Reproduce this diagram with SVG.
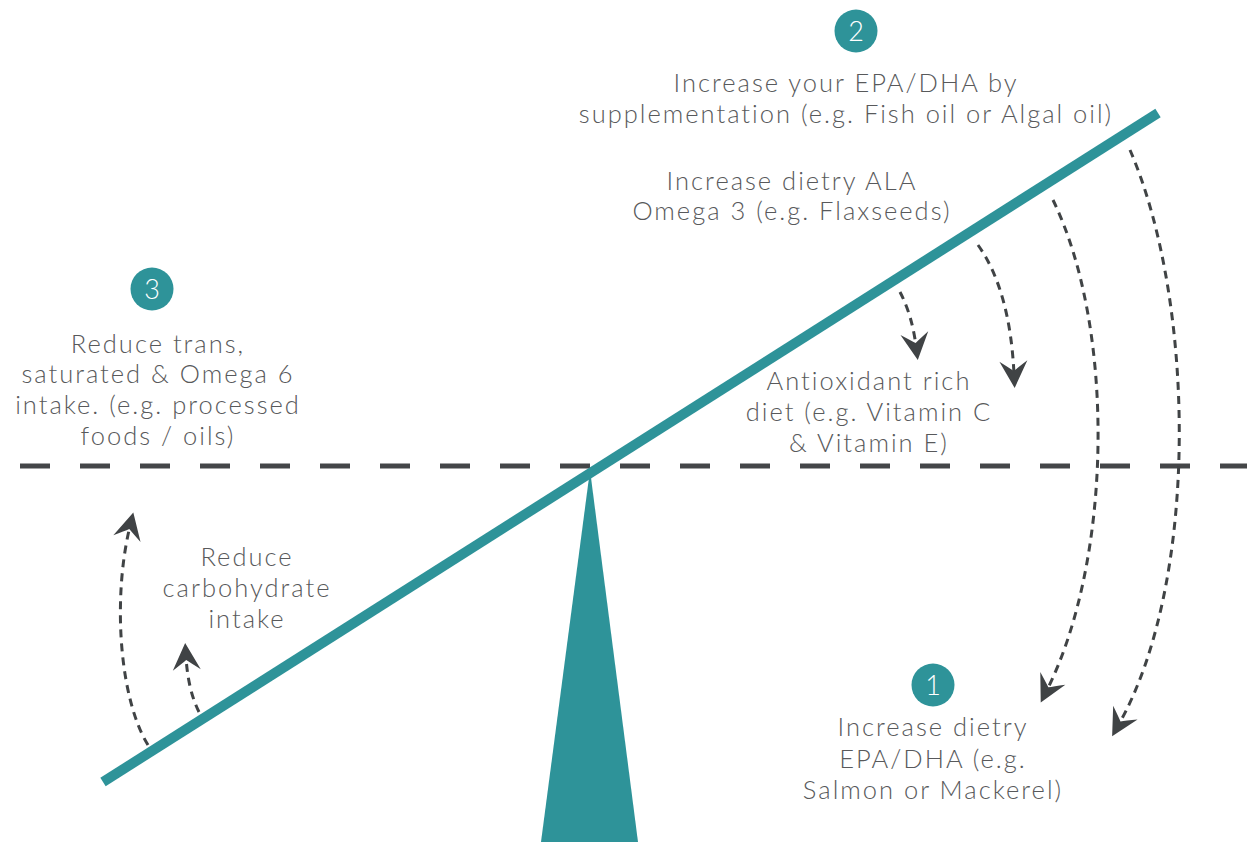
<svg xmlns="http://www.w3.org/2000/svg" width="1247" height="842" viewBox="0 0 1247 842">
  <style>
    .lbl { font-family: Lato, "Open Sans", "Liberation Sans", sans-serif; font-weight: 300; font-size: 25.5px; letter-spacing: 2px; fill: #58595b; text-anchor: middle; }
    .num { font-family: Lato, "Open Sans", "Liberation Sans", sans-serif; font-weight: 300; font-size: 27px; fill: #ffffff; text-anchor: middle; }
    .badge { fill: #2e9399; }
    .flow { fill: none; stroke: #404345; stroke-width: 3; stroke-dasharray: 8 6; marker-end: url(#head); }
  </style>
  <defs>
    <marker id="head" viewBox="-16 -16 32 32" markerWidth="32" markerHeight="32" refX="0" refY="0" orient="auto" markerUnits="userSpaceOnUse">
      <path d="M14,0 L-13,-14 Q-6,-4 -3,0 Q-6,4 -13,14 Z" fill="#404345"/>
    </marker>
  </defs>
  <rect width="1247" height="842" fill="#ffffff"/>

  <!-- balance line -->
  <line x1="20" y1="466" x2="1247" y2="466" stroke="#444648" stroke-width="5" stroke-dasharray="30 30"/>

  <!-- seesaw -->
  <g id="fulcrum">
    <polygon points="590,470 638,842 541,842" fill="#2e9399"/>
  </g>
  <g id="beam">
    <line x1="103" y1="782" x2="1158" y2="113" stroke="#2e9399" stroke-width="10"/>
  </g>

  <!-- connectors -->
  <g id="connectors">
    <path class="flow" d="M900,292 Q912,315 916,346"/>
    <path class="flow" d="M978,245 Q1010,290 1014,374"/>
    <path class="flow" d="M1053,200 C1116,330 1112,560 1047,690"/>
    <path class="flow" d="M1130,150 C1195,300 1200,580 1119,724"/>
    <path class="flow" d="M148,745 C120,700 112,600 130,526"/>
    <path class="flow" d="M199,712 Q188,690 186,657"/>
  </g>

  <g id="step2">
    <circle class="badge" cx="856" cy="31" r="21.5"/>
    <text class="num" x="856" y="41">2</text>
    <text class="lbl" x="846" y="92">Increase your EPA/DHA by</text>
    <text class="lbl" x="846" y="123">supplementation (e.g. Fish oil or Algal oil)</text>
  </g>

  <g id="ala">
    <text class="lbl" x="792" y="190">Increase dietry ALA</text>
    <text class="lbl" x="792" y="220">Omega 3 (e.g. Flaxseeds)</text>
  </g>

  <g id="step3">
    <circle class="badge" cx="152" cy="289" r="21.5"/>
    <text class="num" x="152" y="299">3</text>
    <text class="lbl" x="158" y="353">Reduce trans,</text>
    <text class="lbl" x="158" y="383">saturated &amp; Omega 6</text>
    <text class="lbl" x="158" y="414">intake. (e.g. processed</text>
    <text class="lbl" x="158" y="445">foods / oils)</text>
  </g>

  <g id="antioxidant">
    <text class="lbl" x="869" y="390">Antioxidant rich</text>
    <text class="lbl" x="869" y="421">diet (e.g. Vitamin C</text>
    <text class="lbl" x="869" y="452">&amp; Vitamin E)</text>
  </g>

  <g id="carbs">
    <text class="lbl" x="247" y="566">Reduce</text>
    <text class="lbl" x="247" y="597">carbohydrate</text>
    <text class="lbl" x="247" y="628">intake</text>
  </g>

  <g id="step1">
    <circle class="badge" cx="933" cy="685" r="21.5"/>
    <text class="num" x="933" y="695">1</text>
    <text class="lbl" x="933" y="736">Increase dietry</text>
    <text class="lbl" x="933" y="768">EPA/DHA (e.g.</text>
    <text class="lbl" x="933" y="799">Salmon or Mackerel)</text>
  </g>
</svg>
